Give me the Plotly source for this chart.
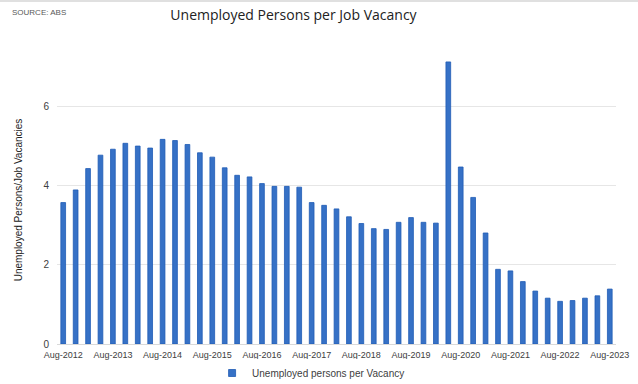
import plotly.graph_objects as go

months = ["Aug", "Nov", "Feb", "May"]
# category labels: quarterly from Aug-2012 to Aug-2023
labels = []
year = 2012
for i in range(45):
    m = months[i % 4]
    if m == "Feb" and i > 0:
        year += 1
    labels.append(f"{m}-{year}")

values = [3.58, 3.90, 4.44, 4.78, 4.93, 5.08, 5.01, 4.96, 5.18, 5.15,
          5.05, 4.84, 4.73, 4.46, 4.27, 4.23, 4.06, 3.99, 3.99, 3.97,
          3.58, 3.51, 3.42, 3.22, 3.05, 2.92, 2.90, 3.08, 3.20, 3.08,
          3.06, 7.14, 4.48, 3.71, 2.81, 1.89, 1.85, 1.58, 1.34, 1.16,
          1.08, 1.10, 1.16, 1.22, 1.39]

tick_labels = [l for l in labels if l.startswith("Aug")]
series_name = "Unemployed persons per Vacancy"

fig = go.Figure()
fig.add_trace(go.Bar(
    x=labels, y=values,
    name=series_name, showlegend=False,
    marker=dict(color="#3671C6", line=dict(color="#1F5CB5", width=0.8)),
    width=0.38,
))
# legend entry with a small square symbol
fig.add_trace(go.Scatter(
    x=[None], y=[None], mode="markers", name=series_name,
    marker=dict(symbol="square", size=7, color="#3671C6", line=dict(color="#1F5CB5", width=0.8)),
))

fig.update_layout(
    width=638, height=384,
    margin=dict(l=57, r=22, t=56, b=40, autoexpand=False),
    paper_bgcolor="white", plot_bgcolor="white",
    font=dict(family="Liberation Sans, Arial", color="#404040", size=9),
    title=dict(text="Unemployed Persons per Job Vacancy", x=293.5/638, xanchor="center",
               y=1-15/384, yanchor="middle",
               font=dict(family="Open Sans", size=14, color="#222222")),
    showlegend=True,
    legend=dict(orientation="h", x=290/638, xanchor="center", yref="container",
                y=1-373/384, yanchor="middle",
                font=dict(size=10, color="#404040"), itemwidth=30),
)
fig.update_xaxes(
    type="category", tickmode="array", tickvals=tick_labels, ticktext=tick_labels,
    tickangle=0, showgrid=False, showline=True, linecolor="#D9D9D9", linewidth=1,
    ticks="", tickfont=dict(size=9, color="#404040"), automargin=False,
    ticklabelstandoff=2,
)
fig.update_yaxes(
    range=[0, 7.29], tickvals=[0, 2, 4, 6], showgrid=True, gridcolor="#E6E6E6",
    zeroline=False, ticks="", tickfont=dict(size=10, color="#404040"), ticklabelstandoff=7,
    automargin=False,
    title=dict(text="Unemployed Persons/Job Vacancies", font=dict(size=10, color="#222222"), standoff=18),
)
fig.add_annotation(text="SOURCE: ABS", xref="paper", yref="paper",
                   x=-47/559, y=1+44/288, xanchor="left", yanchor="middle",
                   showarrow=False, font=dict(size=8, color="#595959"))
fig.add_shape(type="line", xref="paper", yref="paper", x0=-57/559, x1=1+22/559,
              y0=1+55/288, y1=1+55/288, line=dict(color="#E0E0E0", width=2))

fig.write_html("out.html")
